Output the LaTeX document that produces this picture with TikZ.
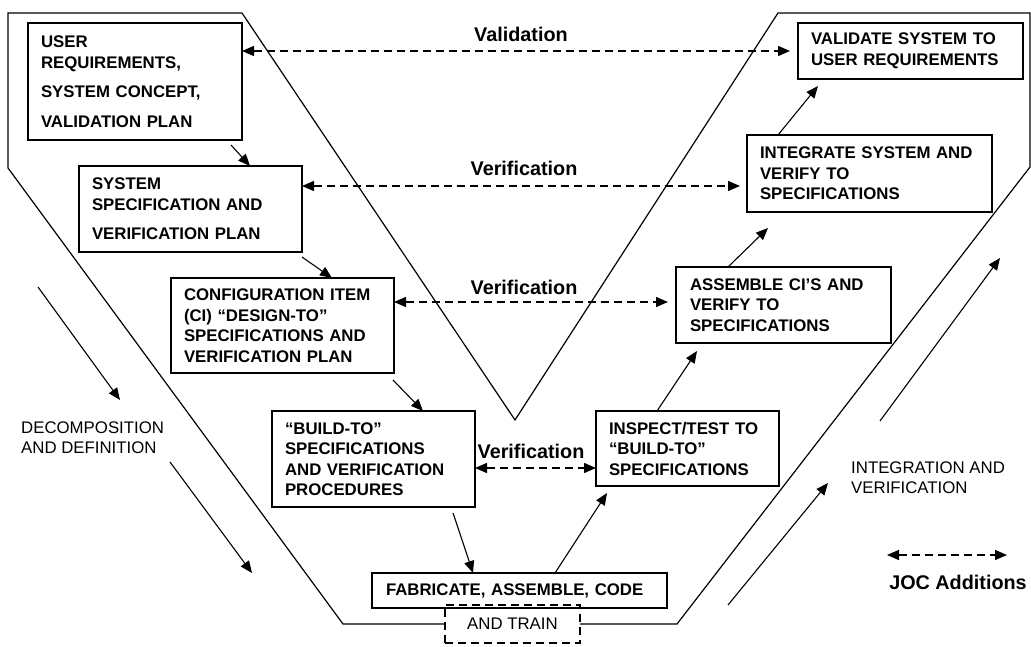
\documentclass[tikz,border=0pt]{standalone}
\usepackage{fontspec}
\setmainfont{Liberation Sans}
\usetikzlibrary{arrows.meta}
\begin{document}
\begin{tikzpicture}[x=1pt,y=-1pt,
  box/.style={draw, line width=1.2pt, anchor=north west, inner xsep=13pt, inner ysep=0pt, outer sep=0pt, align=left, font=\bfseries\fontsize{16.8}{20.5}\selectfont},
  plain/.style={align=left, inner sep=0pt, font=\fontsize{16.8}{20}\selectfont},
  lbl/.style={inner sep=0pt, font=\bfseries\fontsize{19.8}{22}\selectfont},
  outline/.style={line width=1.2pt, line join=miter},
  arr/.style={-{Triangle[length=12pt,width=10pt]}, line width=1.1pt},
  darr/.style={{Triangle[length=12pt,width=10pt]}-{Triangle[length=12pt,width=10pt]}, dash pattern=on 8pt off 5pt, line width=1.5pt},
]
\useasboundingbox (0,0) rectangle (1031,647);

% boxes
\node[box, text width=188pt, minimum height=117pt] (b1) at (28,23) {USER\\REQUIREMENTS,\\[9pt]SYSTEM CONCEPT,\\[9pt]VALIDATION PLAN};
\node[box, text width=197pt, minimum height=86pt] (b2) at (79,166) {SYSTEM\\SPECIFICATION AND\\[9pt]VERIFICATION PLAN};
\node[box, text width=197pt, minimum height=95pt] (b3) at (171,278) {CONFIGURATION ITEM\\(CI) \textquotedblleft DESIGN-TO\textquotedblright\\SPECIFICATIONS AND\\VERIFICATION PLAN};
\node[box, text width=177pt, minimum height=96pt] (b4) at (272,411) {\textquotedblleft BUILD-TO\textquotedblright\\SPECIFICATIONS\\AND VERIFICATION\\PROCEDURES};
\node[draw, dash pattern=on 8pt off 5pt, line width=1.3pt, anchor=north west, minimum width=135pt, minimum height=38pt, inner sep=0pt, outer sep=0pt, font=\fontsize{16.8}{20}\selectfont] (b6) at (445,605) {AND TRAIN};
\node[box, inner xsep=14pt, text width=267pt, minimum height=35pt] (b5) at (372,573) {FABRICATE, ASSEMBLE, CODE};
\node[box, text width=157pt, minimum height=75pt] (b7) at (596,411) {INSPECT/TEST TO\\\textquotedblleft BUILD-TO\textquotedblright\\SPECIFICATIONS};
\node[box, inner xsep=14pt, text width=187pt, minimum height=76pt] (b8) at (676,267) {ASSEMBLE CI\textquoteright S AND\\VERIFY TO\\SPECIFICATIONS};
\node[box, text width=219pt, minimum height=77pt] (b9) at (747,135) {INTEGRATE SYSTEM AND\\VERIFY TO\\SPECIFICATIONS};
\node[box, text width=199pt, minimum height=56pt] (b10) at (798,23) {VALIDATE SYSTEM TO\\USER REQUIREMENTS};

% outline of the V
\draw[outline] (b6.east) -- (677,624) -- (1030,167) -- (1030,13) -- (778,13) -- (515,420) -- (242,13) -- (8,13) -- (8,168) -- (343,624) -- (b6.west);

% solid flow arrows
\draw[arr] ([shift={(-11,5)}]b1.south east) -- ([shift={(171,0)}]b2.north west);
\draw[arr] ([shift={(0,5)}]b2.south east) -- ([shift={(161,0)}]b3.north west);
\draw[arr] ([shift={(-1,7)}]b3.south east) -- ([shift={(151,0)}]b4.north west);
\draw[arr] ([shift={(-22,6)}]b4.south east) -- ([shift={(101,0)}]b5.north west);
\draw[arr] ([shift={(183,0)}]b5.north west) -- ([shift={(11,7)}]b7.south west);
\draw[arr] ([shift={(61,0)}]b7.north west) -- ([shift={(21,8)}]b8.south west);
\draw[arr] ([shift={(52,0)}]b8.north west) -- ([shift={(21,16)}]b9.south west);
\draw[arr] ([shift={(31,0)}]b9.north west) -- ([shift={(20,7)}]b10.south west);

% dashed validation / verification arrows
\draw[darr] ([shift={(0,28)}]b1.north east) -- ([shift={(-8,28)}]b10.north west);
\draw[darr] ([shift={(0,20)}]b2.north east) -- ([shift={(-7,51)}]b9.north west);
\draw[darr] ([shift={(0,24)}]b3.north east) -- ([shift={(-8,35)}]b8.north west);
\draw[darr] ([shift={(0,57)}]b4.north east) -- ([shift={(0,57)}]b7.north west);

\node[lbl] (l1) at (521,34) {Validation};
\node[lbl] (l2) at (524,168) {Verification};
\node[lbl] (l3) at (524,287) {Verification};
\node[lbl] (l4) at (531,451) {Verification};

% side arrows
\coordinate (d1a) at (38,287); \coordinate (d1b) at (120,400);
\coordinate (d2a) at (170,462); \coordinate (d2b) at (252,573);
\coordinate (i1a) at (728,605); \coordinate (i1b) at (828,483);
\coordinate (i2a) at (880,421); \coordinate (i2b) at (1000,258);
\draw[arr] (d1a) -- (d1b);
\draw[arr] (d2a) -- (d2b);
\draw[arr] (i1a) -- (i1b);
\draw[arr] (i2a) -- (i2b);

\node[plain, anchor=west] (dec) at (21,438) {DECOMPOSITION\\AND DEFINITION};
\node[plain, anchor=west] (int) at (851,478) {INTEGRATION AND\\VERIFICATION};

% legend
\coordinate (ja) at (887,555); \coordinate (jb) at (1007,555);
\draw[darr] (ja) -- (jb);
\node[lbl] (joc) at (958,582) {JOC Additions};
\end{tikzpicture}
\end{document}
